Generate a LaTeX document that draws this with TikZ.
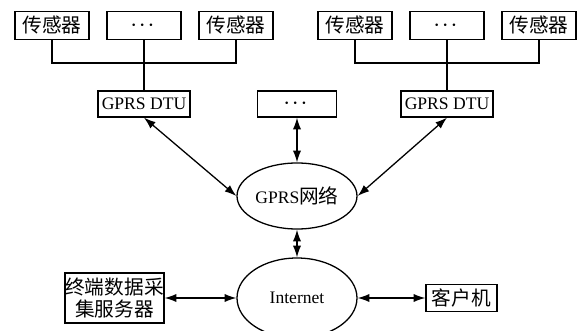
\documentclass[tikz,border=0pt]{standalone}
\usepackage{amsmath,amssymb}
\usepackage{fontspec}
\setmainfont{Liberation Serif}
\newfontfamily\cjk{Noto Sans CJK SC}[Scale=1.12]
\usetikzlibrary{arrows.meta,shapes}

\begin{document}
\begin{tikzpicture}[x=0.03cm,y=0.03cm,node distance=2.76cm,
    >={Latex[length=10pt,width=7pt]},font=\fontsize{15}{19}\selectfont]
      \tikzstyle{sensor}=[rectangle,line width=1.1pt,draw=black,minimum width=2.22cm,minimum height=0.84cm,inner sep=1pt]
      \tikzstyle{dtu}=[rectangle,line width=1.1pt,draw=black,minimum width=2.76cm,minimum height=0.78cm,inner sep=1pt]
      \tikzstyle{net}=[ellipse,line width=1.1pt,draw=black,minimum width=3.6cm,inner sep=0pt]
      \tikzstyle{host}=[rectangle,line width=1.1pt,draw=black,inner sep=2pt]
      \tikzstyle{link}=[<->,line width=1.1pt]
      \tikzstyle{bus}=[line width=1.1pt]

      \useasboundingbox (0,0) rectangle (578,330);

      % sensors of the left DTU
      \begin{scope}
        \node[sensor](s2) at (144,304.5){$\boldsymbol{\cdots}$};
        \node[sensor,left of=s2](s1){\cjk 传感器};
        \node[sensor,right of=s2](s3){\cjk 传感器};
        \node[dtu](dtuL) at (144,226){GPRS DTU};
        \coordinate (busL) at (144,267);

        \draw[bus] (s1.south) |- (busL) -| (s3.south);
        \draw[bus] (s2.south) -- (dtuL.north);
      \end{scope}

      % sensors of the right DTU
      \begin{scope}[xshift=9.09cm]
        \node[sensor](r2) at (144,304.5){$\boldsymbol{\cdots}$};
        \node[sensor,left of=r2](r1){\cjk 传感器};
        \node[sensor,right of=r2](r3){\cjk 传感器};
        \node[dtu](dtuR) at (144,226){GPRS DTU};
        \coordinate (busR) at (144,267);

        \draw[bus] (r1.south) |- (busR) -| (r3.south);
        \draw[bus] (r2.south) -- (dtuR.north);
      \end{scope}

      \node[dtu,minimum width=2.37cm](more) at (297,226){$\boldsymbol{\cdots}$};
      \node[net,minimum height=1.98cm](gprs) at (297,134){GPRS{\cjk 网络}};
      \node[net,minimum height=2.4cm](inet) at (297,32){Internet};
      \node[host,minimum width=2.97cm,minimum height=1.5cm,align=center,inner sep=0pt](server) at (114.5,32)
        {\cjk 终端数据采\\\cjk 集服务器};
      \node[host,minimum width=2.13cm,minimum height=0.81cm](client) at (461.5,32){\cjk 客户机};

      \path[link]
      (dtuL.south) edge (gprs.west)
      (dtuR.south) edge (gprs.east)
      (more.south) edge (gprs.north)
      (gprs.south) edge (inet.north)
      (server.east) edge (inet.west)
      (inet.east) edge (client.west);
    \end{tikzpicture}
\end{document}
